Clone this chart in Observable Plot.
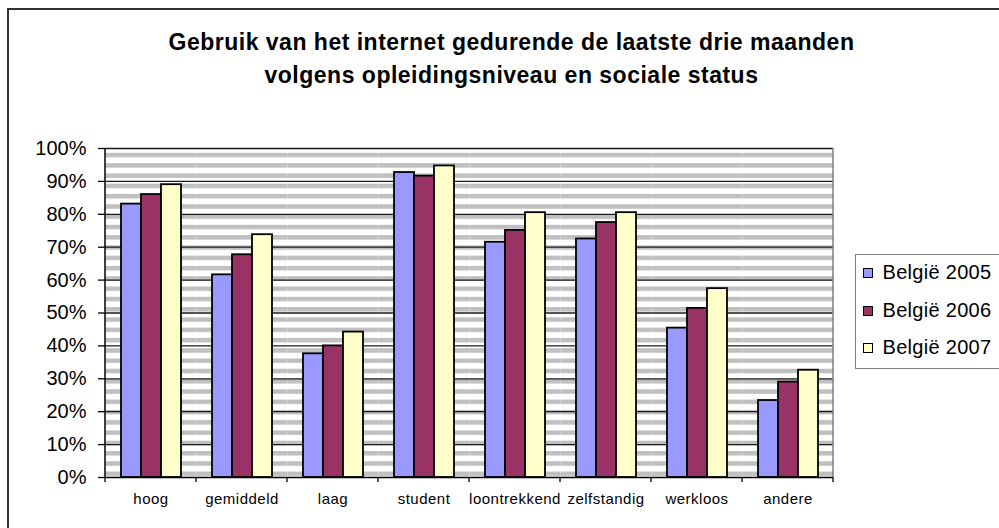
<!DOCTYPE html>
<html>
<head>
<meta charset="utf-8">
<script src="https://cdn.jsdelivr.net/npm/d3@7"></script>
<script src="https://cdn.jsdelivr.net/npm/@observablehq/plot@0.6"></script>
<style>
  html, body { margin: 0; padding: 0; background: #fff; }
  #wrap { position: relative; width: 999px; height: 528px; overflow: hidden; font-family: "Liberation Sans", Arial, sans-serif; color: #000; }
  #border { position: absolute; left: 7px; top: 8px; width: 1100px; height: 600px; border: 2px solid #333; box-sizing: border-box; }
  #chart { position: absolute; left: 0; top: 0; }
  #title { position: absolute; left: 12px; top: 26px; width: 999px; text-align: center; font-weight: bold; font-size: 23px; line-height: 33px; letter-spacing: 0.5px; }
  #legend { position: absolute; left: 855px; top: 254px; width: 200px; height: 115px; border: 1.5px solid #808080; box-sizing: border-box; background: #fff; }
  .item { position: absolute; left: 0; height: 24px; display: flex; align-items: center; white-space: nowrap; }
  .sw { width: 10px; height: 10px; border: 1.5px solid #000; box-sizing: border-box; margin-left: 6.5px; margin-right: 10px; }
  .lab { font-size: 20px; letter-spacing: 0.3px; }
  #chart text.fxlab { letter-spacing: 0.5px; }
</style>
</head>
<body>
<div id="wrap">
  <div id="border"></div>
  <div id="chart"></div>
  <div id="title">Gebruik van het internet gedurende de laatste drie maanden<br>volgens opleidingsniveau en sociale status</div>
  <div id="legend"></div>
</div>
<script>
const categories = ["hoog", "gemiddeld", "laag", "student", "loontrekkend", "zelfstandig", "werkloos", "andere"];
const years = ["België 2005", "België 2006", "België 2007"];
const v2005 = [83.1, 61.6, 37.6, 92.7, 71.5, 72.5, 45.4, 23.4];
const v2006 = [86.0, 67.7, 40.0, 91.6, 75.1, 77.5, 51.4, 29.0];
const v2007 = [89.0, 73.8, 44.2, 94.7, 80.5, 80.5, 57.4, 32.6];
const colors = ["#9999ff", "#993366", "#ffffcc"];
const yTicks = [0, 10, 20, 30, 40, 50, 60, 70, 80, 90, 100];

const series = [v2005, v2006, v2007];
const rows = categories.flatMap((c, i) => series.map((s, j) => ({cat: c, year: years[j], value: s[i]})));
const gridTicks = yTicks.filter(d => d > 0);

const plot = Plot.plot({
  width: 999,
  height: 528,
  marginLeft: 104,
  marginRight: 166,
  marginTop: 148,
  marginBottom: 51,
  style: {fontFamily: "'Liberation Sans', Arial, sans-serif", background: "transparent", color: "#000", overflow: "visible"},
  fx: {domain: categories, padding: 0, label: null},
  x: {domain: years, paddingInner: 0, paddingOuter: 0.74, axis: null},
  y: {domain: [0, 100], label: null},
  color: {domain: years, range: colors},
  marks: [
    Plot.frame({fill: "url(#stripes)", stroke: "none"}),
    Plot.ruleY(gridTicks, {stroke: "#1a1a1a", strokeWidth: 1.3}),
    Plot.barY(rows, {fx: "cat", x: "year", y: "value", fill: "year", stroke: "#000", strokeWidth: 1.8}),
    Plot.ruleY([0], {stroke: "#000", strokeWidth: 1.5}),
    Plot.axisY({ticks: yTicks, tickFormat: d => d + "%", tickSize: 7, tickPadding: 12, fontSize: 20, label: null, strokeWidth: 1.3}),
    Plot.axisFx({anchor: "bottom", tickSize: 0, tickPadding: 16, fontSize: 15, label: null})
  ]
});

document.getElementById("chart").appendChild(plot);

// Decorations derived from the plot's own scales
const svg = d3.select(plot);
const fxS = plot.scale("fx");
const yS = plot.scale("y");
const y0 = yS.apply(0), y100 = yS.apply(100);
const period = (y0 - y100) / 32;
const defs = svg.insert("defs", ":first-child");
const pat = defs.append("pattern").attr("id", "stripes").attr("patternUnits", "userSpaceOnUse")
  .attr("width", 10).attr("height", period).attr("y", y100 + period * 1.42);
pat.append("rect").attr("width", 10).attr("height", period).attr("fill", "#ffffff");
pat.append("rect").attr("width", 10).attr("height", period * 0.44).attr("fill", "#c0c0c0");

svg.selectAll("text").filter(function() { return categories.includes(this.textContent); }).classed("fxlab", true);

const bw = fxS.bandwidth;
const edges = categories.map(c => fxS.apply(c)).concat([fxS.apply(categories[categories.length - 1]) + bw]);
const g = svg.append("g");
g.selectAll("line.edge").data(edges).join("line")
  .attr("x1", d => d).attr("x2", d => d).attr("y1", y0).attr("y2", y0 + 5)
  .attr("stroke", "#000").attr("stroke-width", 1.3);
const xL = edges[0], xR = edges[edges.length - 1];
g.append("line").attr("x1", xR).attr("x2", xR).attr("y1", y100).attr("y2", y0).attr("stroke", "#808080").attr("stroke-width", 1.5);
g.append("line").attr("x1", xL).attr("x2", xL).attr("y1", y100).attr("y2", y0 + 0.75).attr("stroke", "#000").attr("stroke-width", 1.5);

// Legend
const legend = d3.select("#legend");
const centers = [17.5, 55.5, 92.5];
years.forEach((yr, i) => {
  const it = legend.append("div").attr("class", "item").style("top", (centers[i] - 12) + "px");
  it.append("div").attr("class", "sw").style("background", colors[i]);
  it.append("span").attr("class", "lab").text(yr);
});
</script>
</body>
</html>
